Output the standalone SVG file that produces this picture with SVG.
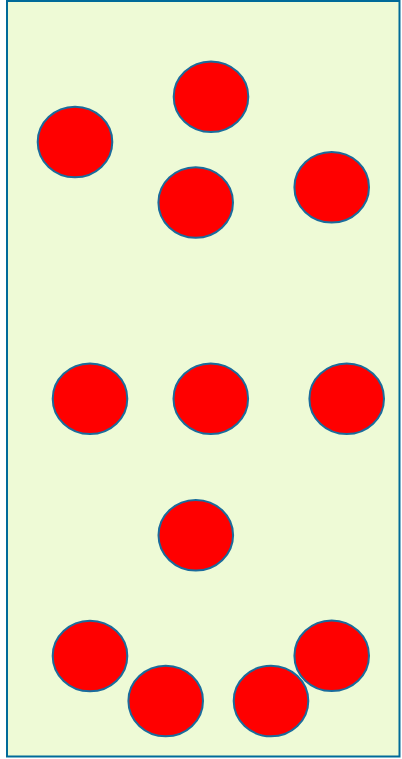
<svg xmlns="http://www.w3.org/2000/svg" width="402" height="759" viewBox="0 0 402 759">
<style>
.frame{fill:#eefad6;stroke:#006a99;stroke-width:2}
.dot{fill:#ff0000;stroke:#1a6b9c;stroke-width:2}
</style>
<rect class="frame" x="7" y="1" width="392.5" height="755.5"/>
<g id="n1"><ellipse class="dot" cx="75" cy="142" rx="37.3" ry="35.3"/></g>
<g id="n2"><ellipse class="dot" cx="211" cy="96.8" rx="37.3" ry="35.3"/></g>
<g id="n3"><ellipse class="dot" cx="195.7" cy="202.5" rx="37.3" ry="35.3"/></g>
<g id="n4"><ellipse class="dot" cx="331.7" cy="187.3" rx="37.3" ry="35.3"/></g>
<g id="n5"><ellipse class="dot" cx="90" cy="398.7" rx="37.3" ry="35.3"/></g>
<g id="n6"><ellipse class="dot" cx="210.8" cy="398.7" rx="37.3" ry="35.3"/></g>
<g id="n7"><ellipse class="dot" cx="346.7" cy="398.7" rx="37.3" ry="35.3"/></g>
<g id="n8"><ellipse class="dot" cx="195.8" cy="535.2" rx="37.3" ry="35.3"/></g>
<g id="n9"><ellipse class="dot" cx="90" cy="656" rx="37.3" ry="35.3"/></g>
<g id="n10"><ellipse class="dot" cx="165.7" cy="701" rx="37.3" ry="35.3"/></g>
<g id="n11"><ellipse class="dot" cx="271" cy="701" rx="37.3" ry="35.3"/></g>
<g id="n12"><ellipse class="dot" cx="331.7" cy="655.7" rx="37.3" ry="35.3"/></g>
<g id="connectors"/>
</svg>
